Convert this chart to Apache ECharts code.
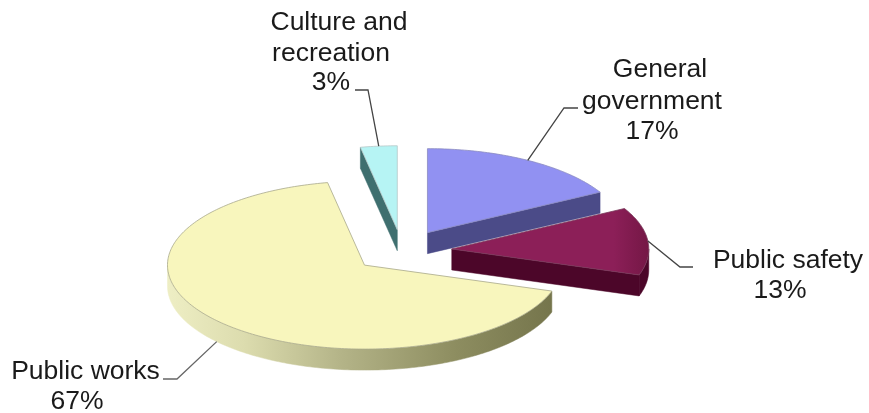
<!DOCTYPE html>
<html>
<head>
<meta charset="utf-8">
<style>html,body{margin:0;padding:0;background:#fff}#chart{width:869px;height:413px}</style>
<script src="https://cdn.jsdelivr.net/npm/echarts@6/dist/echarts.min.js"></script>
</head>
<body>
<div id="chart"></div>
<script>
// Data
const categories = ['General government', 'Public safety', 'Public works', 'Culture and recreation'];
const values = [17, 13, 67, 3];
const labelLines = [['General', 'government', '17%'], ['Public safety', '13%'], ['Public works', '67%'], ['Culture and', 'recreation', '3%']];

// Styles and layout
const topFill = [
  '#9191f2',
  {type:'linear',x:0,y:0,x2:1,y2:0,colorStops:[{offset:0,color:'#8c1f58'},{offset:.82,color:'#8c1f58'},{offset:1,color:'#741745'}]},
  '#f8f6bd',
  '#b6f4f4'
];
const wallFill = [
  '#4b4b88',
  '#4c0629',
  {type:'linear',x:0,y:0,x2:1,y2:0,colorStops:[{offset:0,color:'#eeeec4'},{offset:.2,color:'#dcdcae'},{offset:.45,color:'#b4b488'},{offset:.75,color:'#8d8d60'},{offset:1,color:'#75754c'}]},
  '#3f6f6f'
];
const edgeColor = ['#8a8ac0', '#7a3a5c', '#a8a88c', '#b8c8c8'];
const cx = 402, cy = 251, rx = 197, ry = 84, depth = 21, explode = 50;
// elbow of each leader line, then its end near the text
const leaderElbows = [[[564,108],[578,108]], [[680,267],[693,267]], [[177,379],[163,379]], [[368,90],[355,90]]];
// centre x and middle y of each text line
const labelX = [[660,652,652],[788,780],[85.5,77],[339,331,331]];
const labelY = [[70,102,132],[261,291],[372,402],[23,54,83]];
const fontSize = 26.5;

const total = values.reduce((a,b)=>a+b,0);
const starts = []; let acc = 0;
values.forEach(v => { starts.push(acc/total*360); acc += v; });
const rad = d => d*Math.PI/180;

function renderItem(params, api) {
  const i = params.dataIndex;
  const v = api.value(0);
  const a0 = starts[i], a1 = a0 + v/total*360, mid = (a0+a1)/2;
  const ax = cx + explode*Math.sin(rad(mid));
  const ay = cy - explode*(ry/rx)*Math.cos(rad(mid));
  const pt = (a,dy=0) => [ax + rx*Math.sin(rad(a)), ay - ry*Math.cos(rad(a)) + dy];
  const arc = (s,e,dy=0) => { const o=[]; const n=Math.max(2,Math.ceil(Math.abs(e-s))); for(let k=0;k<=n;k++) o.push(pt(s+(e-s)*k/n,dy)); return o; };
  const children = [];
  const poly = (points, fill, stroke, lw) => children.push({type:'polygon',shape:{points},style:{fill,stroke:stroke||fill,lineWidth:lw||0.5}});

  // outer wall: only the part facing the viewer (90..270 degrees clockwise from the top)
  const ws = Math.max(a0,90), we = Math.min(a1,270);
  if (we > ws) poly(arc(ws,we).concat(arc(ws,we,depth).reverse()), wallFill[i], null, 0.5);
  // cut walls that face the viewer
  if (a1 <= 180 && a1 > 0) { // right side cut
    const e = pt(a1);
    poly([[ax,ay],e,[e[0],e[1]+depth],[ax,ay+depth]], wallFill[i]);
  }
  if (a0 >= 300) { // left side cut
    const e = pt(a0);
    poly([[ax,ay],e,[e[0],e[1]+depth],[ax,ay+depth]], wallFill[i]);
  }
  // top face
  poly([[ax,ay]].concat(arc(a0,a1)), topFill[i], edgeColor[i], 0.8);

  // leader line
  const onFront = i === 2;
  const start = pt(mid, onFront ? depth : 0);
  children.push({type:'polyline',shape:{points:[start].concat(leaderElbows[i])},style:{fill:'none',stroke:i===2?'#666':'#444',lineWidth:1.3}});

  // label text
  labelLines[i].forEach((t,k)=>children.push({type:'text',style:{text:t,x:labelX[i][k],y:labelY[i][k],align:'center',verticalAlign:'middle',font:fontSize+'px "Liberation Sans", Arial, sans-serif',fill:'#1a1a1a'}}));
  return {type:'group',children};
}

const chart = echarts.init(document.getElementById('chart'), null, {renderer:'canvas'});
chart.setOption({
  animation:false,
  backgroundColor:'#ffffff',
  series:[{
    type:'custom',
    coordinateSystem:'none',
    renderItem,
    silent:true,
    data: categories.map((c,i)=>({name:c,value:[values[i]]}))
  }]
});
</script>
</body>
</html>
